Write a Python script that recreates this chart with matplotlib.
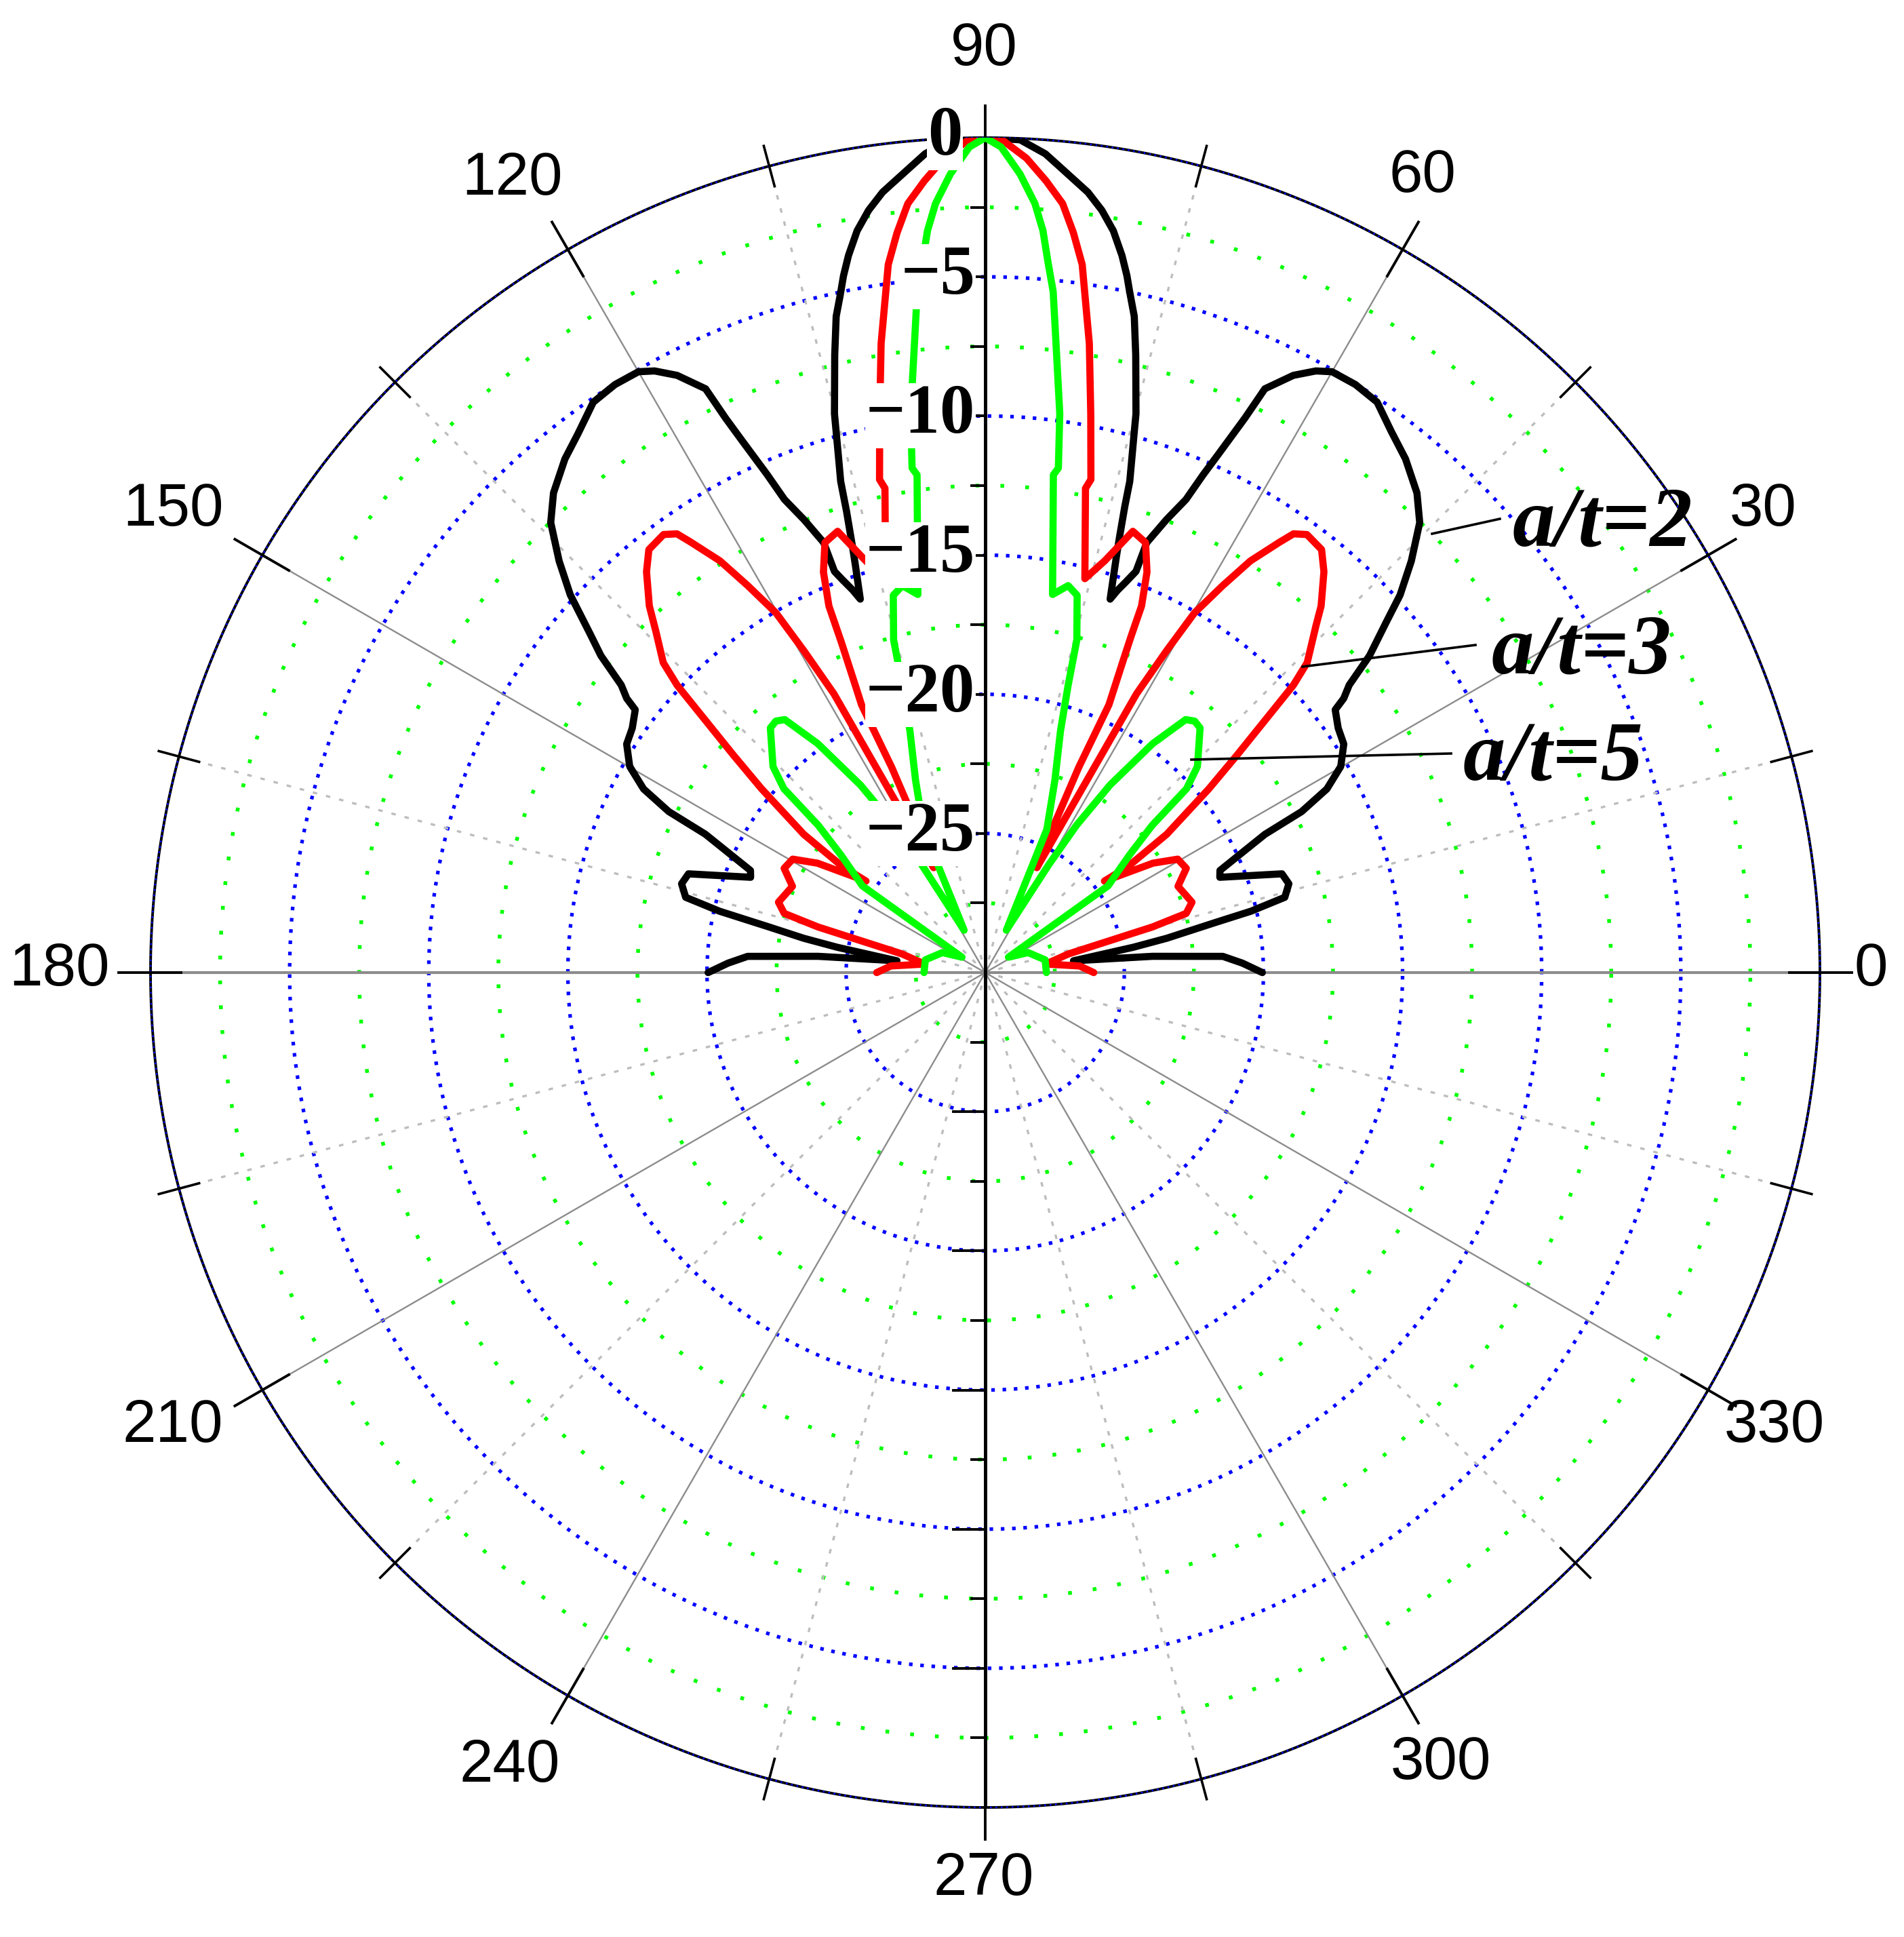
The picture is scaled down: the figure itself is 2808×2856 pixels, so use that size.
import numpy as np
import matplotlib
matplotlib.use("Agg")
import matplotlib.pyplot as plt

# ---------------- data (half pattern, symmetric about 90 deg) ----------------
# (angle in degrees, level in dB), from 90 deg down to 0 deg
BLACK_AT2 = [(90, 0), (87.6, -0.05), (85.8, -0.5), (84.1, -1.15), (82.5, -1.72), (81.3, -2.29),
             (80.2, -2.95), (79.2, -3.77), (78.5, -4.45), (77.95, -5.07), (77.2, -5.82), (76.3, -7.16),
             (74.9, -9.2), (74.3, -10.4), (73.6, -11.6), (73.3, -12.6), (72.8, -13.75), (72.4, -14.5),
             (71.5, -15.85), (70.9, -15.46), (70.1, -15.03), (69.4, -14.6), (69.4, -13.49), (68.2, -12.48),
             (67.0, -11.53), (66.35, -10.47), (65.6, -9.29), (64.9, -8.0), (64.4, -6.74), (62.7, -5.85),
             (61.2, -5.33), (60.0, -5.07), (57.8, -5.03), (55.5, -5.13), (53.1, -5.69), (50.7, -6.15),
             (48.0, -6.81), (46.0, -7.52), (44.0, -8.71), (42.3, -9.84), (40.85, -11.1), (39.5, -12.1),
             (38.3, -13.33), (37.4, -13.78), (36.9, -14.27), (34.7, -14.57), (32.5, -14.72), (30.1, -15.23),
             (28.25, -16.06), (26.96, -17.24), (26.3, -18.78), (24.7, -20.04), (23.5, -20.8), (22.1, -20.9),
             (18.4, -18.76), (16.3, -18.63), (14.1, -18.9), (13.0, -20.2), (12.1, -21.8), (10.7, -23.36),
             (9.7, -24.6), (7.6, -26.8), (5.55, -23.96), (3.9, -21.44), (2.1, -20.75), (0, -20.04)]

RED_AT3 = [(90, 0), (88.9, -0.05), (87.1, -0.70), (85.6, -1.47), (84.25, -2.23), (83.2, -3.23),
           (82.2, -4.32), (81.6, -5.43), (80.6, -7.09), (79.3, -9.57), (77.9, -11.88), (78.3, -12.23),
           (75.8, -15.4), (73.8, -14.59), (71.5, -13.28), (69.55, -13.51), (68.0, -14.48), (66.9, -15.68),
           (66.5, -16.96), (65.9, -18.24), (65.2, -19.4), (65.5, -21.9), (64.8, -24.8), (63.8, -25.8),
           (62.4, -23.2), (61.5, -18.6), (60.6, -16.74), (59.8, -15.04), (58.45, -13.68), (57.2, -12.4),
           (55.65, -11.28), (54.9, -10.73), (53.7, -10.47), (51.5, -10.58), (49.8, -11.14), (47.5, -12.13),
           (46.2, -12.86), (43.9, -13.94), (43.0, -14.86), (42.6, -15.56), (40.8, -18.05), (39.4, -19.6),
           (37.3, -21.8), (36.6, -23.6), (37.5, -24.6), (33.1, -22.8), (30.5, -21.97), (27.4, -21.86),
           (24.1, -22.41), (18.8, -22.15), (16.4, -22.47), (15.25, -23.77), (14.4, -25.36), (12.6, -26.94),
           (8.0, -27.8), (4.0, -26.6), (0, -26.1)]

GREEN_AT5 = [(90, 0), (88.9, -0.33), (87.5, -1.28), (86.3, -2.31), (85.55, -3.26), (84.9, -4.46),
             (84.3, -5.41), (83.4, -7.66), (82.4, -9.74), (81.75, -11.68), (82.2, -11.95), (79.9, -16.2),
             (77.9, -15.78), (76.3, -16.05), (74.6, -17.6), (73.9, -19.25), (72.7, -20.9), (70.1, -22.64),
             (66.7, -24.4), (63.5, -28.3), (59.5, -25.5), (58.2, -23.77), (56.35, -21.9), (53.8, -19.8),
             (51.6, -18.4), (50.2, -18.24), (48.7, -18.3), (44.15, -19.37), (42.4, -20.2), (41.4, -22.0),
             (39.2, -23.3), (35.2, -24.6), (33.5, -29.0), (25, -28.3), (12, -27.8), (0, -27.8)]

SERIES = [("a/t=2", BLACK_AT2, "#000000"),
          ("a/t=3", RED_AT3, "#ff0000"),
          ("a/t=5", GREEN_AT5, "#00ff00")]

ANGLE_TICKS = [0, 30, 60, 90, 120, 150, 180, 210, 240, 270, 300, 330]
RADIAL_TICKS = [0, -5, -10, -15, -20, -25]
RADIAL_TICK_LABELS = ["0", "\u22125", "\u221210", "\u221215", "\u221220", "\u221225"]
R_MIN, R_MAX = -30, 0

# ---------------- layout ----------------
W, H = 2808, 2856
CX, CY, RAD = 1453, 1434, 1231          # circle centre / radius in pixels

fig = plt.figure(figsize=(W / 100, H / 100), dpi=100)
fig.patch.set_facecolor("white")
ax = fig.add_axes([(CX - RAD) / W, (H - (CY + RAD)) / H, 2 * RAD / W, 2 * RAD / H],
                  projection="polar")
ax.set_ylim(R_MIN, R_MAX)
ax.set_xticks([])
ax.set_yticks([])
ax.grid(False)
ax.spines["polar"].set_visible(False)


def px(X, Y):
    """pixel position -> axes fraction"""
    return (X - (CX - RAD)) / (2 * RAD), ((CY + RAD) - Y) / (2 * RAD)


# ---------------- grid ----------------
th = np.linspace(0, 2 * np.pi, 1441)
for k in range(1, 12):
    lvl = R_MIN + 2.5 * k
    if k % 2 == 0:
        ax.plot(th, np.full_like(th, lvl), color="#0000ff", lw=3.8,
                linestyle=(0, (1, 2.15)), zorder=1)
    else:
        ax.plot(th, np.full_like(th, lvl), color="#00ff00", lw=4.0,
                linestyle=(0, (1, 5.6)), zorder=1)
# outer circle
ax.plot(th, np.full_like(th, R_MAX), color="black", lw=2.8, zorder=2, clip_on=False)
ax.plot(th, np.full_like(th, R_MAX), color="#0000ff", lw=1.8, linestyle=(0, (1, 2.2)),
        zorder=2.1, clip_on=False)

# radial lines
for a in range(15, 360, 30):
    t = np.radians(a)
    ax.plot([t, t], [R_MIN, R_MAX], color="#bdbdbd", lw=2.4, linestyle=(0, (2, 4)), zorder=1)
for a in range(0, 360, 30):
    t = np.radians(a)
    if a in (90, 270):
        ax.plot([t, t], [R_MIN, R_MAX], color="black", lw=3.6, zorder=3)
    elif a in (0, 180):
        ax.plot([t, t], [R_MIN, R_MAX], color="#8c8c8c", lw=3.0, zorder=1.5)
    else:
        ax.plot([t, t], [R_MIN, R_MAX], color="#8c8c8c", lw=1.7, zorder=1.5)

# ticks across outer circle
for a in range(0, 360, 15):
    t = np.radians(a)
    if a % 30 == 0:
        ax.plot([t, t], [-1.1, 1.14], color="black", lw=2.8, zorder=3, clip_on=False)
    else:
        ax.plot([t, t], [-0.75, 0.75], color="black", lw=2.6, zorder=3, clip_on=False)

# ticks on the vertical axis (left side)
for k in range(1, 12):
    lvl = R_MIN + 2.5 * k
    L = 47 if k % 2 == 0 else 20
    for sgn in (1, -1):
        y = 0.5 + sgn * (lvl - R_MIN) / (2 * (R_MAX - R_MIN))
        ax.plot([0.5 - L / (2 * RAD), 0.5], [y, y], transform=ax.transAxes,
                color="black", lw=2.8, zorder=3, clip_on=False)


# ---------------- curves ----------------
def straight_path(pairs, n=12):
    a = np.array(pairs, dtype=float)
    deg, db = a[:, 0], a[:, 1]
    deg_full = np.concatenate([deg[::-1], 180 - deg[1:]])
    db_full = np.concatenate([db[::-1], db[1:]])
    rho = db_full - R_MIN
    t = np.radians(deg_full)
    x, y = rho * np.cos(t), rho * np.sin(t)
    s = np.linspace(0, 1, n, endpoint=False)
    xs = np.concatenate([x[i] + (x[i + 1] - x[i]) * s for i in range(len(x) - 1)] + [x[-1:]])
    ys = np.concatenate([y[i] + (y[i + 1] - y[i]) * s for i in range(len(y) - 1)] + [y[-1:]])
    ys = np.clip(ys, 0, None)
    return np.arctan2(ys, xs), np.hypot(xs, ys) + R_MIN


for i, (name, pairs, col) in enumerate(SERIES):
    tt, rr = straight_path(pairs)
    ax.plot(tt, rr, color=col, lw=7.6, solid_joinstyle="round", solid_capstyle="round",
            zorder=5 + i)

# ---------------- text ----------------
label_px = {0: (2759, 1430), 30: (2600, 752), 60: (2098, 260), 90: (1451, 73),
            120: (756, 264), 150: (255, 752), 180: (87, 1430), 210: (255, 2103),
            240: (752, 2604), 270: (1451, 2771), 300: (2125, 2600), 330: (2617, 2103)}
for a in ANGLE_TICKS:
    x, y = px(*label_px[a])
    ax.text(x, y, str(a), transform=ax.transAxes, ha="center", va="center",
            fontsize=64, family="Liberation Sans", color="black", clip_on=False)

for v, lab in zip(RADIAL_TICKS, RADIAL_TICK_LABELS):
    y = 0.5 + (v - R_MIN) / (2 * (R_MAX - R_MIN))
    off = 34 if v == 0 else 15
    ax.text(0.5 - off / (2 * RAD), y, lab, transform=ax.transAxes, ha="right", va="center",
            fontsize=74, family="Liberation Serif", weight="bold", color="black",
            zorder=20, clip_on=False,
            bbox=dict(facecolor="white", edgecolor="none", pad=1))

leaders = [((2112, 787), (2212, 765), (2231, 805)),
           ((1921, 983), (2176, 951), (2200, 992)),
           ((1757, 1120), (2140, 1111), (2158, 1151))]
for (name, _, _), (p0, p1, pt) in zip(SERIES, leaders):
    x0, y0 = px(*p0)
    x1, y1 = px(*p1)
    ax.plot([x0, x1], [y0, y1], transform=ax.transAxes, color="black", lw=2.6,
            zorder=15, clip_on=False)
    xt, yt = px(*pt)
    ax.text(xt, yt, name, transform=ax.transAxes, ha="left", va="baseline",
            fontsize=90, family="Liberation Serif", weight="bold", style="italic",
            color="black", zorder=20, clip_on=False)

fig.savefig("out.png", dpi=100, facecolor="white")
